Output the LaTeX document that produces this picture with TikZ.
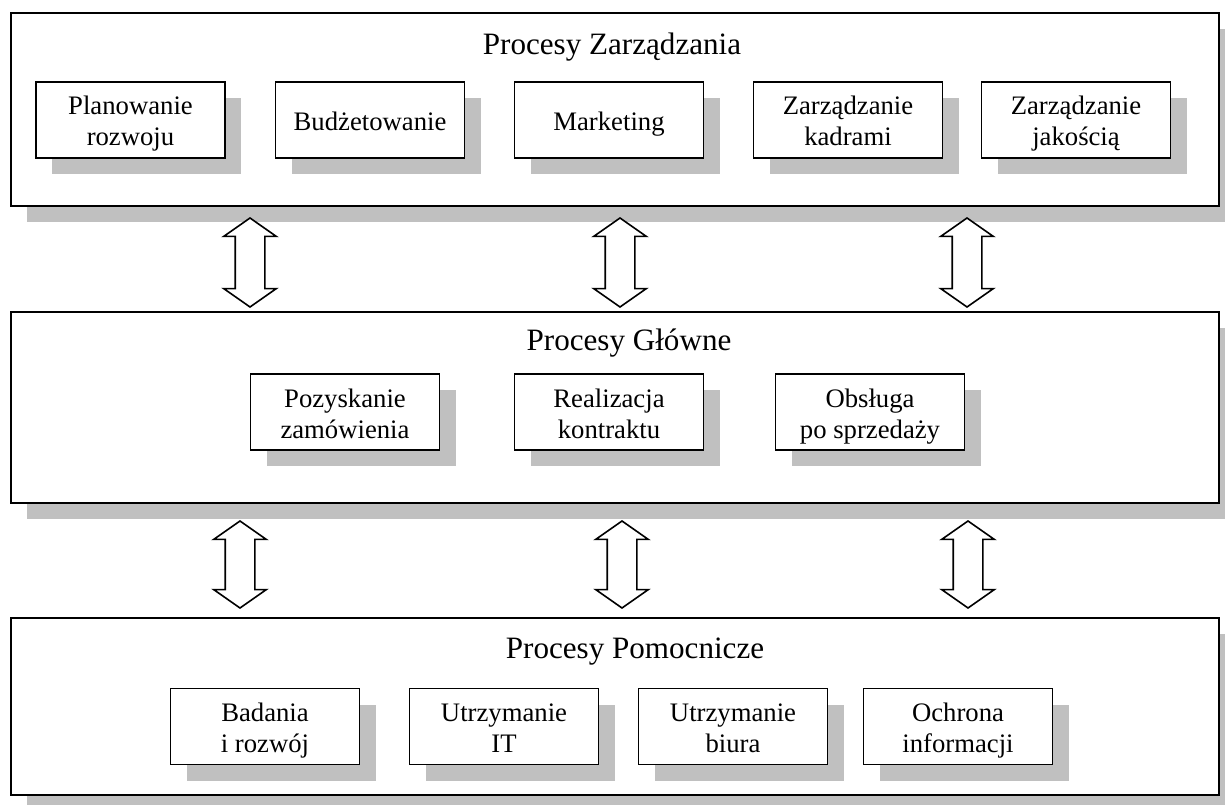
\documentclass[tikz,border=0pt]{standalone}
\usepackage{fontspec}
\setmainfont{Liberation Serif}
\usetikzlibrary{shadows,shapes.arrows}
\definecolor{shadowgray}{RGB}{192,192,192}

\begin{document}
\begin{tikzpicture}[x=1pt,y=-1pt,
    shade16/.style={general shadow={fill=shadowgray,shadow xshift=16pt,shadow yshift=-16pt}},
    layer/.style={draw,line width=2pt,fill=white,minimum width=1208pt,inner sep=0pt,shade16},
    box/.style={draw,line width=1.6pt,fill=white,minimum width=189pt,minimum height=76pt,
        inner sep=0pt,align=center,font=\fontsize{26.7}{31}\selectfont,shade16,
        text height=58pt,text depth=6pt},
    onebox/.style={box,text height=27pt},
    title/.style={anchor=base,inner sep=0pt,font=\fontsize{31.1}{36}\selectfont},
    updown/.style={double arrow,draw,line width=1.6pt,fill=white,rotate=90,
        inner xsep=0pt,inner ysep=14pt,minimum width=51pt,
        double arrow head extend=11.5pt,double arrow tip angle=110}]
\useasboundingbox (0,0) rectangle (1225,805);

\node[layer,minimum height=193pt] (zarz) at (615,109.5) {};
\node[layer,minimum height=191pt] (glowne) at (615,407.5) {};
\node[layer,minimum height=177pt] (pomoc) at (615,706.5) {};

\node[title] (tzarz) at (612,55) {Procesy Zarządzania};
\node[title] (tglowne) at (629,350) {Procesy Główne};
\node[title] (tpomoc) at (635,658) {Procesy Pomocnicze};

\node[box] (plan) at (130.5,120) {Planowanie\\rozwoju};
\node[onebox] (budzet) at (370,120) {Budżetowanie};
\node[onebox] (market) at (609,120) {Marketing};
\node[box] (kadry) at (848,120) {Zarządzanie\\kadrami};
\node[box] (jakosc) at (1076,120) {Zarządzanie\\jakością};

\node[box] (pozysk) at (345,412) {Pozyskanie\\zamówienia};
\node[box] (realiz) at (609,412) {Realizacja\\kontraktu};
\node[box] (obsluga) at (870,412) {Obsługa\\po sprzedaży};

\node[box] (badania) at (265,726.5) {Badania\\i rozwój};
\node[box] (it) at (504,726.5) {Utrzymanie\\IT};
\node[box] (biuro) at (733,726.5) {Utrzymanie\\biura};
\node[box] (ochrona) at (958,726.5) {Ochrona\\informacji};

\foreach \x [count=\i] in {250,620,967}
    \node[updown,minimum height=89pt] (ua\i) at (\x,262.5) {};
\foreach \x [count=\i] in {240,622,968}
    \node[updown,minimum height=87pt] (da\i) at (\x,564.5) {};
\end{tikzpicture}
\end{document}
